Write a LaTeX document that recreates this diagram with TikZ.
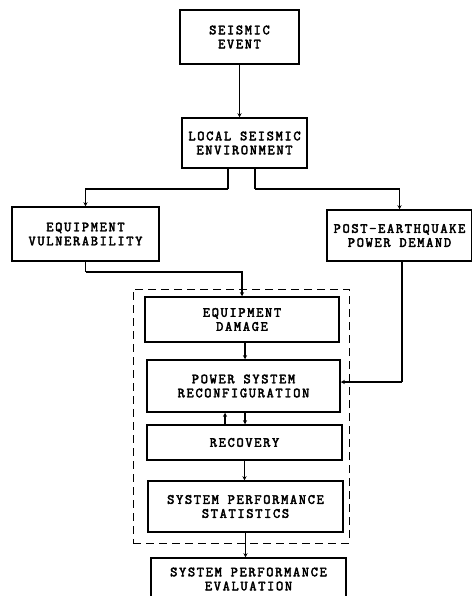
\documentclass[tikz,border=0pt]{standalone}
\usepackage{fontspec}
\newfontfamily\boxfont{Latin Modern Mono}[LetterSpace=12, FakeBold=3]
\usetikzlibrary{arrows.meta}
\begin{document}
\begin{tikzpicture}[x=1pt,y=-1pt,
  block/.style={draw, line width=1.5pt, align=center, inner sep=0pt,
    font=\boxfont\fontsize{14}{14}\selectfont},
  link/.style={line width=1.1pt, -{Stealth[length=4pt,width=4pt]}},
  wire/.style={line width=1.1pt},
  group/.style={draw, dashed, line width=1pt, dash pattern=on 8pt off 5pt}]
\useasboundingbox (0,0) rectangle (471,596);

% dashed frame around the evaluation loop
\node[group, minimum width=216pt, minimum height=254pt] (loop) at (241,416) {};

% blocks
\node[block, minimum width=119pt, minimum height=54pt] (seismic) at (239.5,37) {SEISMIC\\EVENT};
\node[block, minimum width=125pt, minimum height=50pt] (local) at (244.5,143) {LOCAL SEISMIC\\ENVIRONMENT};
\node[block, minimum width=147pt, minimum height=54pt] (vuln) at (85.5,234) {EQUIPMENT\\VULNERABILITY};
\node[block, minimum width=145pt, minimum height=51pt] (post) at (399.5,235.5) {POST-EARTHQUAKE\\POWER DEMAND};
\node[block, minimum width=194pt, minimum height=45pt] (damage) at (242,319.5) {EQUIPMENT\\DAMAGE};
\node[block, minimum width=193pt, minimum height=52pt] (reconf) at (243.5,386) {POWER SYSTEM\\RECONFIGURATION};
\node[block, minimum width=195pt, minimum height=35pt] (recov) at (244.5,442.5) {RECOVERY};
\node[block, minimum width=195pt, minimum height=51pt] (stats) at (245.5,506.5) {SYSTEM PERFORMANCE\\STATISTICS};
\node[block, minimum width=195pt, minimum height=42pt] (eval) at (248.5,579) {SYSTEM PERFORMANCE\\EVALUATION};

% turning points of the routed connectors
\coordinate (splitL) at (228,189);
\coordinate (splitR) at (255,189);
\coordinate (vturn) at (85.5,272);
\coordinate (pturn) at (402,382);

% connectors
\draw[link] (seismic.south) -- (seismic.south |- local.north);
\draw[wire] ([xshift=-16.5pt]local.south) -- (splitL);
\draw[link] (splitL) -| (vuln.north);
\draw[wire] ([xshift=10.5pt]local.south) -- (splitR);
\draw[link] (splitR) -| (post.north);
\draw[wire] (vuln.south) -- (vturn);
\draw[link] (vturn) -| (damage.north);
\draw[wire] ([xshift=2.5pt]post.south) -- (pturn);
\draw[link] (pturn) -- (pturn -| reconf.east);
\draw[link] ([xshift=3pt]damage.south) -- ([xshift=3pt]damage.south |- reconf.north);
\draw[link] ([xshift=-19.5pt]recov.north) -- ([xshift=-19.5pt]recov.north |- reconf.south);
\draw[link] ([xshift=1.5pt]reconf.south) -- ([xshift=1.5pt]reconf.south |- recov.north);
\draw[link] (recov.south) -- (recov.south |- stats.north);
\draw[link] (stats.south) -- (stats.south |- eval.north);
\end{tikzpicture}
\end{document}
